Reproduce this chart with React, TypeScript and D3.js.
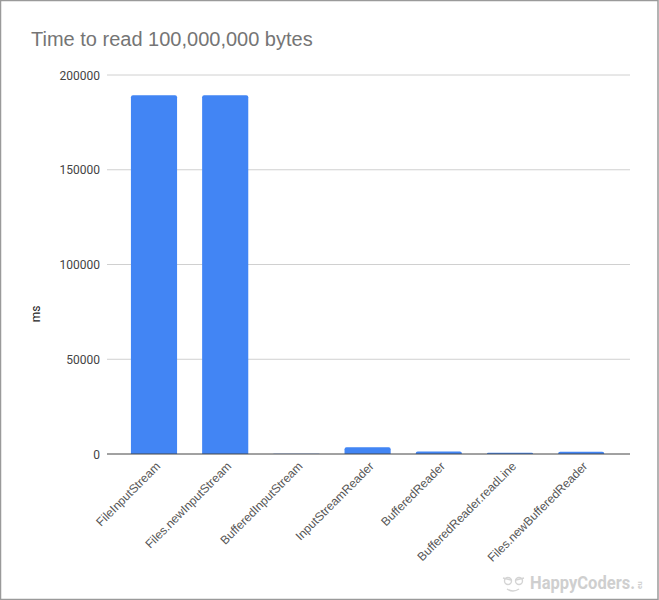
import React from "react";
import * as d3 from "d3";

const title = "Time to read 100,000,000 bytes";
const yLabel = "ms";
const categories = ["FileInputStream","Files.newInputStream","BufferedInputStream","InputStreamReader","BufferedReader","BufferedReader.readLine","Files.newBufferedReader"];
const values = [189300,189300,100,3600,1300,700,1200];
const yTicks = [0,50000,100000,150000,200000];

const W = 659, H = 600;
const x = d3.scaleBand<string>().domain(categories).range([118.4,616.8]).paddingInner(0.352).paddingOuter(0.176);
const y = d3.scaleLinear().domain([0,200000]).range([454,75]);
const font = "Roboto, Arial, sans-serif";
const latin = "'Liberation Sans', Arial, sans-serif";

function barPath(x0:number,y0:number,w:number,h:number){
  const r=Math.min(2,h);
  return `M${x0},${y0+h}V${y0+r}Q${x0},${y0} ${x0+r},${y0}H${x0+w-r}Q${x0+w},${y0} ${x0+w},${y0+r}V${y0+h}Z`;
}

export default function App(){
  return (
    <svg width={W} height={H} style={{position:"absolute",left:0,top:0,background:"#fff"}}>
      <rect x={0.5} y={0.5} width={W-1.5} height={H-1} fill="#fff" stroke="#9a9a9a" strokeWidth={1.5}/>
      <text x={31} y={46} fontFamily={latin} fontSize={20} fill="#757575">{title}</text>
      {yTicks.map(t=>(
        <g key={t}>
          {t!==0 && <line x1={107} x2={630} y1={y(t)} y2={y(t)} stroke="#d0d0d0"/>}
          <text x={100} y={y(t)+4.5} textAnchor="end" fontFamily={font} fontSize={12} fill="#444">{t}</text>
        </g>
      ))}
      <text transform="translate(40,314) rotate(-90)" textAnchor="middle" fontFamily={font} fontSize={12} fill="#222">{yLabel}</text>
      {categories.map((c,i)=>{
        const h=y(0)-y(values[i]);
        return <path key={c} d={barPath(x(c)!,y(values[i]),x.bandwidth(),h)} fill="#4285f4"/>;
      })}
      <line x1={107} x2={630} y1={454} y2={454} stroke="#444" strokeWidth={1}/>
      {categories.map(c=>(
        <text key={c} transform={`translate(${x(c)!+x.bandwidth()/2+7},${467}) rotate(-45)`} textAnchor="end" fontFamily={latin} fontSize={12} fill="#555">{c}</text>
      ))}
      <g stroke="#d4d4d4" fill="none" strokeWidth={1.4}>
        <circle cx={508} cy={581} r={3.5}/>
        <circle cx={519} cy={581} r={3.5}/>
        <path d="M503,578L511,580M516,580L524,578M507,589Q513,593 519,589"/>
      </g>
      <text x={530} y={589} fontFamily={font} fontWeight={700} fontSize={17.5} textLength={105} lengthAdjust="spacingAndGlyphs" fill="#cfcfcf">HappyCoders.</text>
      <text transform="translate(642,589) rotate(-90)" fontFamily={font} fontWeight={700} fontSize={7} fill="#cfcfcf">eu</text>
    </svg>
  );
}
